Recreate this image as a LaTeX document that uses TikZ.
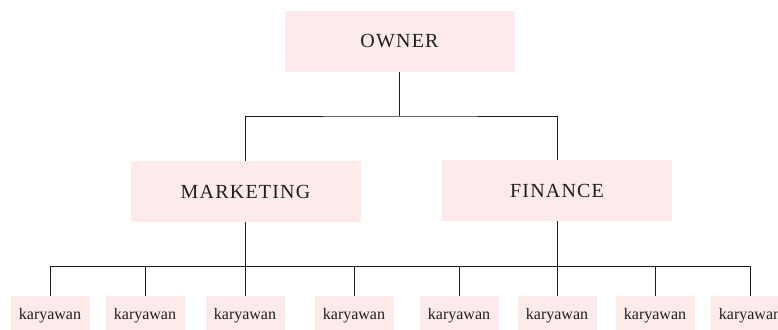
\documentclass[tikz,border=0pt]{standalone}
\usepackage{fontspec}
\setmainfont{Liberation Serif}
\usepackage{tikz}
\usetikzlibrary{positioning}
\definecolor{boxpink}{RGB}{253,235,235}
\definecolor{inkgrey}{RGB}{30,30,30}
\tikzset{
  unit/.style={fill=boxpink, draw=none, inner sep=0pt, outer sep=0pt,
    text=inkgrey, minimum width=230pt, minimum height=61pt,
    font=\fontsize{20}{22}\selectfont\addfontfeature{LetterSpace=6}},
  staff/.style={fill=boxpink, draw=none, inner sep=0pt, outer sep=0pt,
    text=inkgrey, minimum width=79pt, minimum height=40pt,
    font=\fontsize{16}{18}\selectfont},
  wire/.style={draw=inkgrey, line width=0.8pt}
}
\begin{document}
\begin{tikzpicture}[x=1pt, y=1pt]
  \useasboundingbox (0, 0) rectangle (778, -329);
  \def\topbus{-116}
  \def\lowbus{-266}
  % heads
  \node [unit] (owner) at (399.5, -41.5) {OWNER};
  \node [unit] (marketing) at (245.5, -191.5) {MARKETING};
  \node [unit] (finance) at (557, -190.5) {FINANCE};
  % staff row
  \foreach \i/\xx in {1/50, 2/145, 3/245, 4/354, 5/459, 6/557, 7/655, 8/750}
    \node [staff] (k\i) at (\xx, -316) {karyawan};
  \coordinate (tb) at (399.5, \topbus);
  \coordinate (lb) at (0, \lowbus);
  \draw [wire] (owner.south) -- (tb);
  \draw [wire] (marketing.north) |- (tb) -| (finance.north);
  \draw [wire] (k1.north) -- (k1.north |- lb) -- (k8.north |- lb) -- (k8.north);
  \draw [wire] (marketing.south) -- (marketing.south |- lb)
               (finance.south) -- (finance.south |- lb);
  \foreach \i in {2,...,7}
    \draw [wire] (k\i.north) -- (k\i.north |- lb);
\end{tikzpicture}
\end{document}
